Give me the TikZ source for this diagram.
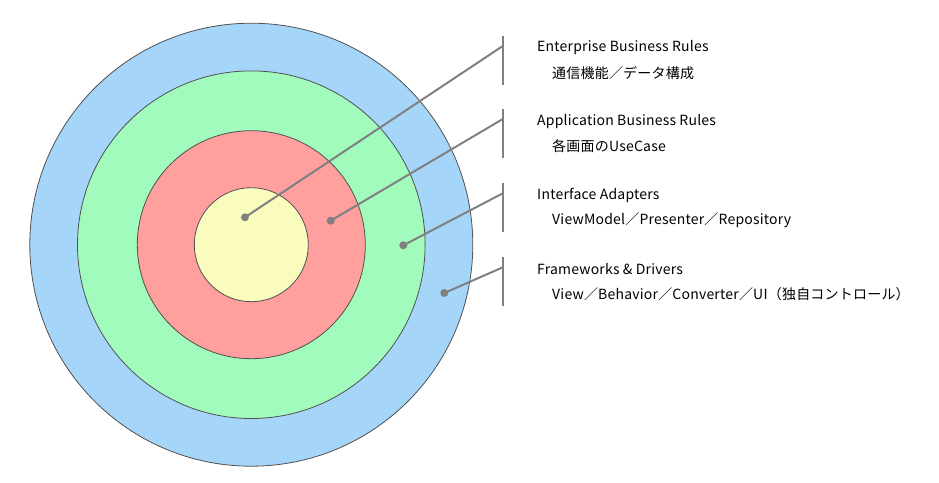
\documentclass[tikz,border=0pt]{standalone}
\usepackage{fontspec}
\setmainfont{Noto Sans CJK JP}[LetterSpace=1.5]
\usetikzlibrary{positioning}

\definecolor{layerblue}{RGB}{166,213,250}
\definecolor{layergreen}{RGB}{161,251,188}
\definecolor{layerred}{RGB}{255,160,158}
\definecolor{layeryellow}{RGB}{250,252,190}
\definecolor{ringline}{RGB}{80,80,80}
\definecolor{leadgray}{RGB}{128,128,128}

\tikzset{
  ring/.style={draw=ringline, line width=0.8pt},
  pin/.style={circle, fill=leadgray, inner sep=0pt, minimum size=8pt},
  lead/.style={draw=leadgray, line width=2pt},
  brace/.style={draw=leadgray, line width=2.2pt},
  title/.style={anchor=west, inner sep=0pt, font=\fontsize{14}{16}\selectfont},
}

\begin{document}
\begin{tikzpicture}[x=1pt, y=-1pt]
        \useasboundingbox (0,0) rectangle (939,482);

        % layers
        \fill[layerblue, ring] (251.3, 244.7) circle (221.5);
        \fill[layergreen, ring] (251.3, 244.7) circle (173.8);
        \fill[layerred, ring] (251.3, 244.7) circle (114);
        \fill[layeryellow, ring] (251.3, 244.7) circle (57);

        % pins in each layer
        \node[pin] (pinEnt) at (245, 217.3) {};
        \node[pin] (pinApp) at (330.7, 220.7) {};
        \node[pin] (pinIf) at (403.3, 245.3) {};
        \node[pin] (pinFw) at (444.3, 293) {};

        % brackets
        \draw[brace] (502.8, 36) -- (502.8, 84.5);
        \draw[brace] (502.8, 109) -- (502.8, 158);
        \draw[brace] (502.8, 183) -- (502.8, 231.5);
        \draw[brace] (502.8, 257) -- (502.8, 305.5);

        \coordinate (jEnt) at (502.8, 46);
        \coordinate (jApp) at (502.8, 119);
        \coordinate (jIf) at (502.8, 193.3);
        \coordinate (jFw) at (502.8, 267.3);

        \draw[lead] (pinEnt.center) -- (jEnt);
        \draw[lead] (pinApp.center) -- (jApp);
        \draw[lead] (pinIf.center) -- (jIf);
        \draw[lead] (pinFw.center) -- (jFw);

        % labels
        \node[title] (tEnt) at (537, 48) {Enterprise Business Rules};
        \node[title] (sEnt) at (552, 73) {通信機能／データ構成};
        \node[title] (tApp) at (537, 122) {Application Business Rules};
        \node[title] (sApp) at (552, 146) {各画面のUseCase};
        \node[title] (tIf) at (537, 195) {Interface Adapters};
        \node[title] (sIf) at (552, 220) {ViewModel／Presenter／Repository};
        \node[title] (tFw) at (537, 269) {Frameworks \& Drivers};
        \node[title] (sFw) at (552, 294) {View／Behavior／Converter／UI（独自コントロール）};

    \end{tikzpicture}
\end{document}
